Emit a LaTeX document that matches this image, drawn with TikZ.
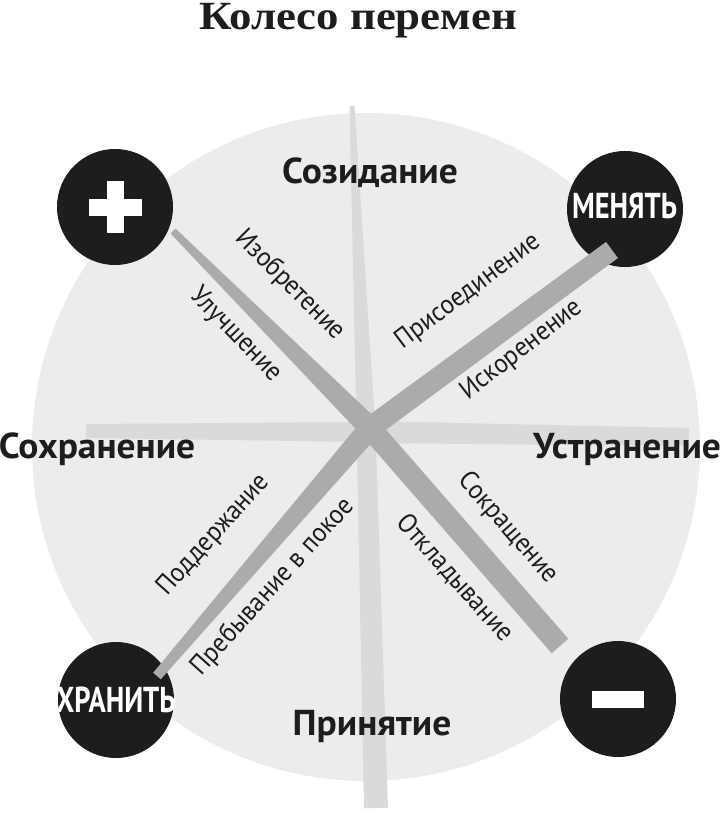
\documentclass[tikz,border=0pt]{standalone}
\usepackage{fontspec}
\usetikzlibrary{calc}
\setmainfont{PT Sans}
\newfontfamily\labelfont[FakeStretch=0.93]{PT Sans}
\newfontfamily\headfont[FakeStretch=1.04]{PT Sans}
\newfontfamily\discfont[FakeStretch=0.79]{PT Sans}
\newfontfamily\titlefont[FakeStretch=1.12]{Liberation Serif}
\definecolor{wheel}{HTML}{ECECEC}
\definecolor{lightbrush}{HTML}{DADADA}
\definecolor{darkbrush}{HTML}{ABABAB}
\definecolor{ink}{HTML}{1D1D1B}
\newcommand{\brush}[5]{\fill[#1] ($(#2)!#4/2!90:(#3)$) -- ($(#3)!#5/2!-90:(#2)$) -- ($(#3)!#5/2!90:(#2)$) -- ($(#2)!#4/2!-90:(#3)$) -- cycle;}
\begin{document}
\begin{tikzpicture}[x=1pt, y=-1pt, line join=round, line cap=round,
	big/.style={font=\headfont\bfseries\fontsize{36}{36}\selectfont, text=ink, inner sep=0pt},
	small/.style={font=\labelfont\fontsize{27}{27}\selectfont, text=ink, inner sep=0pt},
	disc/.style={circle, fill=ink, minimum size=116pt, inner sep=0pt},
	disctext/.style={font=\discfont\bfseries\fontsize{36}{36}\selectfont, text=white, inner sep=0pt}]
	\useasboundingbox (0,0) rectangle (722,813);
	\node[font=\titlefont\bfseries\fontsize{40}{40}\selectfont, text=ink, anchor=base] (title) at (358,30) {Колесо перемен};
	\fill[wheel] (366,447) circle (334);
	\node[disc] (plus) at (115,207) {};
	\node[disc] (change) at (625,209) {};
	\node[disc] (keep) at (116,700) {};
	\node[disc] (minus) at (618,699) {};
	\fill[white] ($(plus)+(-26.5,-8.5)$) rectangle ++(53,17);
	\fill[white] ($(plus)+(-8.5,-26)$) rectangle ++(17,52);
	\fill[white] ($(minus)+(-26,-8.5)$) rectangle ++(52,17);
	\coordinate (vtop) at (352,106); \coordinate (vmid) at (366,430); \coordinate (vbot) at (376,808);
	\coordinate (hleft) at (86,431); \coordinate (hmid) at (366,432); \coordinate (hright) at (689,437);
	\brush{lightbrush}{vtop}{vmid}{5pt}{19pt}
	\brush{lightbrush}{vmid}{vbot}{19pt}{24pt}
	\brush{lightbrush}{hleft}{hmid}{14pt}{20pt}
	\brush{lightbrush}{hmid}{hright}{22pt}{18pt}
	\coordinate (hub) at (370,428);
	\coordinate (astart) at (173,231); \coordinate (aend) at (560,646);
	\coordinate (bstart) at (157,676); \coordinate (bend) at (612,250);
	\brush{darkbrush}{astart}{hub}{7pt}{22pt}
	\brush{darkbrush}{hub}{aend}{22pt}{22pt}
	\brush{darkbrush}{bstart}{hub}{10pt}{22pt}
	\brush{darkbrush}{hub}{bend}{22pt}{20pt}
	\fill[darkbrush] (hub) circle (11);
	\node[big, anchor=base] (create) at (370,183) {Созидание};
	\node[big, anchor=base] (accept) at (372,735) {Принятие};
	\node[big, anchor=base] (preserve) at (97,458) {Сохранение};
	\node[big, anchor=base] (remove) at (627,458) {Устранение};
	\node[disctext, anchor=base] (changetxt) at (624.5,218) {МЕНЯТЬ};
	\node[disctext, anchor=base] (keeptxt) at (116,712) {ХРАНИТЬ};
	\foreach \txt/\x/\y/\ang [count=\i] in {Изобретение/290/285/-45, Улучшение/236/335/-46,
		Присоединение/468/292/37, Искоренение/522/350/38,
		Поддержание/214/535/48, Пребывание в покое/273/587/48,
		Сокращение/508/528/-49, Откладывание/455/578/-48}
		\node[small, rotate=\ang] (way\i) at (\x,\y) {\txt};
\end{tikzpicture}
\end{document}
